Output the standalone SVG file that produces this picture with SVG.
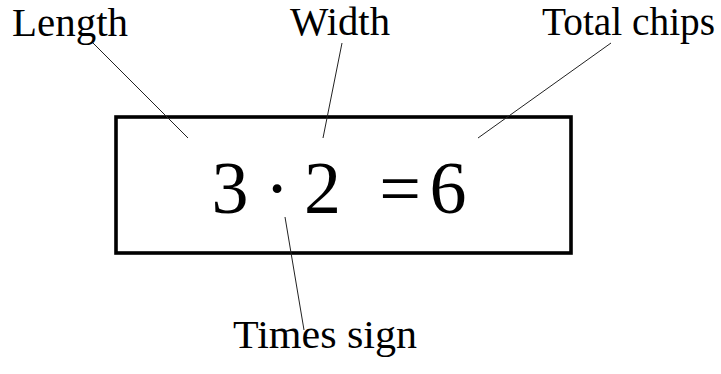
<svg xmlns="http://www.w3.org/2000/svg" width="721" height="374" viewBox="0 0 721 374">
<style>
.lbl{font-family:"Liberation Serif","Times New Roman",serif;font-size:39px;fill:#000}
.eq{font-family:"Liberation Serif","Times New Roman",serif;font-size:74px;fill:#000;text-anchor:middle}
.con{stroke:#222;stroke-width:1;fill:none}
</style>
<rect width="721" height="374" fill="#fff"/>
<g id="box">
<rect x="116" y="117" width="455" height="136" fill="none" stroke="#000" stroke-width="3.6"/>
<text class="eq" x="230" y="213">3</text>
<text class="eq" x="277" y="213">·</text>
<text class="eq" x="322.5" y="213">2</text>
<text class="eq" x="400" y="213">=</text>
<text class="eq" x="448" y="213">6</text>
</g>
<g id="length"><text class="lbl" x="12" y="36" textLength="116" lengthAdjust="spacingAndGlyphs">Length</text></g>
<g id="width"><text class="lbl" x="290" y="35" textLength="100" lengthAdjust="spacingAndGlyphs">Width</text></g>
<g id="total"><text class="lbl" x="542" y="35" textLength="173" lengthAdjust="spacingAndGlyphs">Total chips</text></g>
<g id="times"><text class="lbl" x="233" y="348" textLength="184" lengthAdjust="spacingAndGlyphs">Times sign</text></g>
<g id="connectors">
<line class="con" x1="93" y1="43" x2="188" y2="138"/>
<line class="con" x1="342" y1="43" x2="323" y2="138"/>
<line class="con" x1="611" y1="43" x2="478" y2="138"/>
<line class="con" x1="285" y1="217" x2="304" y2="330"/>
</g>
</svg>
